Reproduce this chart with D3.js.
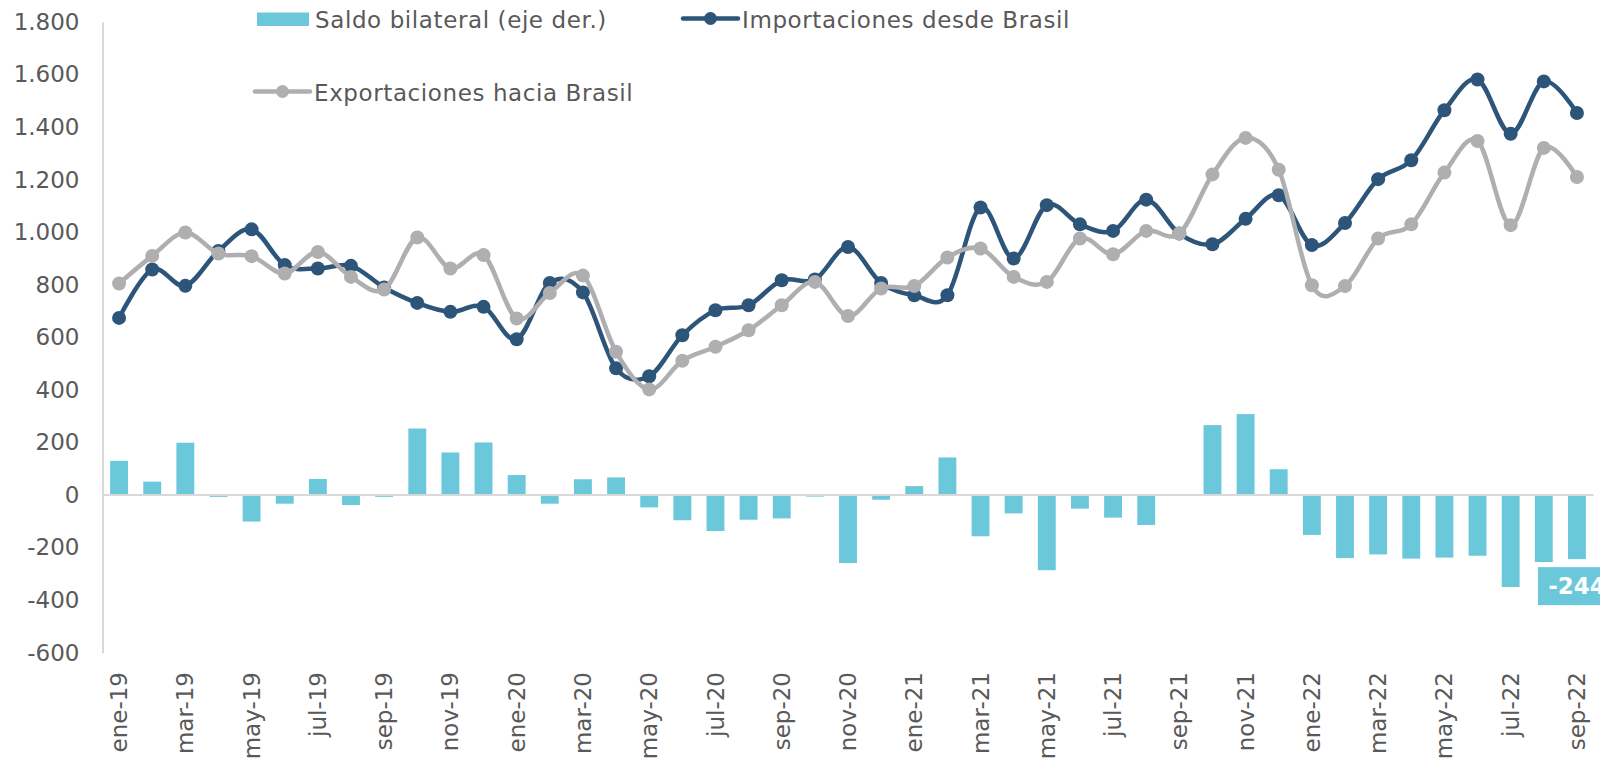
<!DOCTYPE html>
<html>
<head>
<meta charset="utf-8">
<script src="https://cdn.jsdelivr.net/npm/d3@7"></script>
<style>
  body { margin: 0; background: #fff; }
  svg text { font-family: "DejaVu Sans", Verdana, sans-serif; fill: #595959; }
</style>
</head>
<body>
<div id="chart-area"><svg></svg></div>
<script>
const months = [
  "ene-19", "feb-19", "mar-19", "abr-19", "may-19", "jun-19", "jul-19", "ago-19", "sep-19", "oct-19", "nov-19", "dic-19",
  "ene-20", "feb-20", "mar-20", "abr-20", "may-20", "jun-20", "jul-20", "ago-20", "sep-20", "oct-20", "nov-20", "dic-20",
  "ene-21", "feb-21", "mar-21", "abr-21", "may-21", "jun-21", "jul-21", "ago-21", "sep-21", "oct-21", "nov-21", "dic-21",
  "ene-22", "feb-22", "mar-22", "abr-22", "may-22", "jun-22", "jul-22", "ago-22", "sep-22"
];

const importaciones = [
  674, 858, 796, 929, 1011, 875, 862, 872, 790, 731, 697, 716,
  593, 807, 771, 482, 452, 608, 703, 722, 817, 820, 944, 807,
  760, 760, 1094, 900, 1103, 1030, 1005, 1124, 995, 954, 1051, 1141,
  951, 1035, 1202, 1274, 1464, 1581, 1375, 1574, 1454
];

const exportaciones = [
  805, 910, 999, 919, 909, 843, 925, 830, 782, 980, 862, 913,
  672, 769, 835, 545, 402, 511, 564, 627, 722, 811, 681, 786,
  795, 904, 938, 830, 811, 976, 916, 1005, 995, 1220, 1359, 1238,
  798, 795, 976, 1030, 1227, 1347, 1027, 1321, 1210
];

const saldo = [
  130, 51, 199, -7, -101, -33, 61, -38, -7, 253, 162, 200,
  76, -33, 60, 67, -47, -96, -137, -94, -89, -6, -259, -18,
  34, 143, -157, -70, -286, -52, -86, -114, 0, 266, 308, 98,
  -152, -240, -226, -242, -238, -231, -350, -255, -244
];

const yTicks = [-600, -400, -200, 0, 200, 400, 600, 800, 1000, 1200, 1400, 1600, 1800];

const chartSize = { width: 1600, height: 763 };
const plot = { left: 102.5, right: 1593.5, top: 22, bottom: 652.7 };
const colors = { bar: "#6bc8da", imp: "#2d5579", exp: "#afafb1", axis: "#d9d9d9" };

const locale = d3.formatLocale({ decimal: ",", thousands: ".", grouping: [3], currency: ["$", ""], minus: "-" });
const fmt = locale.format(",");

const svg = d3.select("#chart-area svg")
  .attr("width", chartSize.width)
  .attr("height", chartSize.height);

const x = d3.scaleBand()
  .domain(months)
  .range([plot.left, plot.right])
  .paddingInner(0.46)
  .paddingOuter(0.23);

const xc = m => x(m) + x.bandwidth() / 2;

const y = d3.scaleLinear()
  .domain([-600, 1800])
  .range([plot.bottom, plot.top]);

// y axis (line + labels, no ticks)
const yAxis = d3.axisLeft(y).tickValues(yTicks).tickFormat(fmt).tickSize(0).tickPadding(23);
const yg = svg.append("g")
  .attr("transform", `translate(${plot.left},0)`)
  .call(yAxis);
yg.select(".domain").attr("stroke", colors.axis).attr("stroke-width", 2);
yg.selectAll("text")
  .attr("font-size", 23)
  .attr("fill", "#595959")
  .attr("font-family", "DejaVu Sans, Verdana, sans-serif");

// bars
svg.append("g")
  .selectAll("rect")
  .data(saldo)
  .join("rect")
  .attr("x", (d, i) => x(months[i]))
  .attr("width", x.bandwidth())
  .attr("y", d => y(Math.max(0, d)))
  .attr("height", d => Math.abs(y(d) - y(0)))
  .attr("fill", colors.bar);

// zero line
svg.append("line")
  .attr("x1", plot.left)
  .attr("x2", plot.right)
  .attr("y1", y(0))
  .attr("y2", y(0))
  .attr("stroke", colors.axis)
  .attr("stroke-width", 2);

// x labels every two months
svg.append("g")
  .selectAll("text")
  .data(months.filter((m, i) => i % 2 === 0))
  .join("text")
  .attr("transform", m => `translate(${xc(m)},672) rotate(-90)`)
  .attr("text-anchor", "end")
  .attr("dy", "0.35em")
  .attr("font-size", 23)
  .text(m => m);

// lines
const line = d3.line()
  .x((d, i) => xc(months[i]))
  .y(d => y(d))
  .curve(d3.curveCatmullRom.alpha(0));

const drawSeries = (values, color) => {
  const g = svg.append("g");
  g.append("path")
    .attr("d", line(values))
    .attr("fill", "none")
    .attr("stroke", color)
    .attr("stroke-width", 4.5)
    .attr("stroke-linejoin", "round")
    .attr("stroke-linecap", "round");
  g.selectAll("circle")
    .data(values)
    .join("circle")
    .attr("cx", (d, i) => xc(months[i]))
    .attr("cy", d => y(d))
    .attr("r", 7)
    .attr("fill", color);
};

drawSeries(importaciones, colors.imp);
drawSeries(exportaciones, colors.exp);

// label on last bar (runs past the right edge, as in the source)
const lastIdx = saldo.length - 1;
const lastX = xc(months[lastIdx]);
const lastY = y(saldo[lastIdx]);
svg.append("rect")
  .attr("x", lastX - 39)
  .attr("y", lastY + 8)
  .attr("width", 78)
  .attr("height", 38)
  .attr("fill", colors.bar);
svg.append("text")
  .attr("x", lastX)
  .attr("y", lastY + 27)
  .attr("dy", "0.35em")
  .attr("text-anchor", "middle")
  .attr("font-size", 23)
  .attr("font-weight", "bold")
  .style("fill", "#fff")
  .text(fmt(saldo[lastIdx]));

// legend
const legend = svg.append("g");
legend.append("rect")
  .attr("x", 257).attr("y", 12.5)
  .attr("width", 52).attr("height", 13.5)
  .attr("fill", colors.bar);
legend.append("text")
  .attr("x", 315).attr("y", 19.5).attr("dy", "0.35em")
  .attr("font-size", 23)
  .attr("letter-spacing", 0.6)
  .text("Saldo bilateral (eje der.)");

const legendLine = (x0, yy, color, label) => {
  legend.append("line")
    .attr("x1", x0).attr("x2", x0 + 55)
    .attr("y1", yy).attr("y2", yy)
    .attr("stroke", color).attr("stroke-width", 4.5)
    .attr("stroke-linecap", "round");
  legend.append("circle")
    .attr("cx", x0 + 27.5).attr("cy", yy).attr("r", 6.5)
    .attr("fill", color);
  legend.append("text")
    .attr("x", x0 + 59).attr("y", yy + 1).attr("dy", "0.35em")
    .attr("font-size", 23)
    .attr("letter-spacing", 0.6)
    .text(label);
};

legendLine(683, 18.5, colors.imp, "Importaciones desde Brasil");
legendLine(255, 91.5, colors.exp, "Exportaciones hacia Brasil");
</script>
</body>
</html>
